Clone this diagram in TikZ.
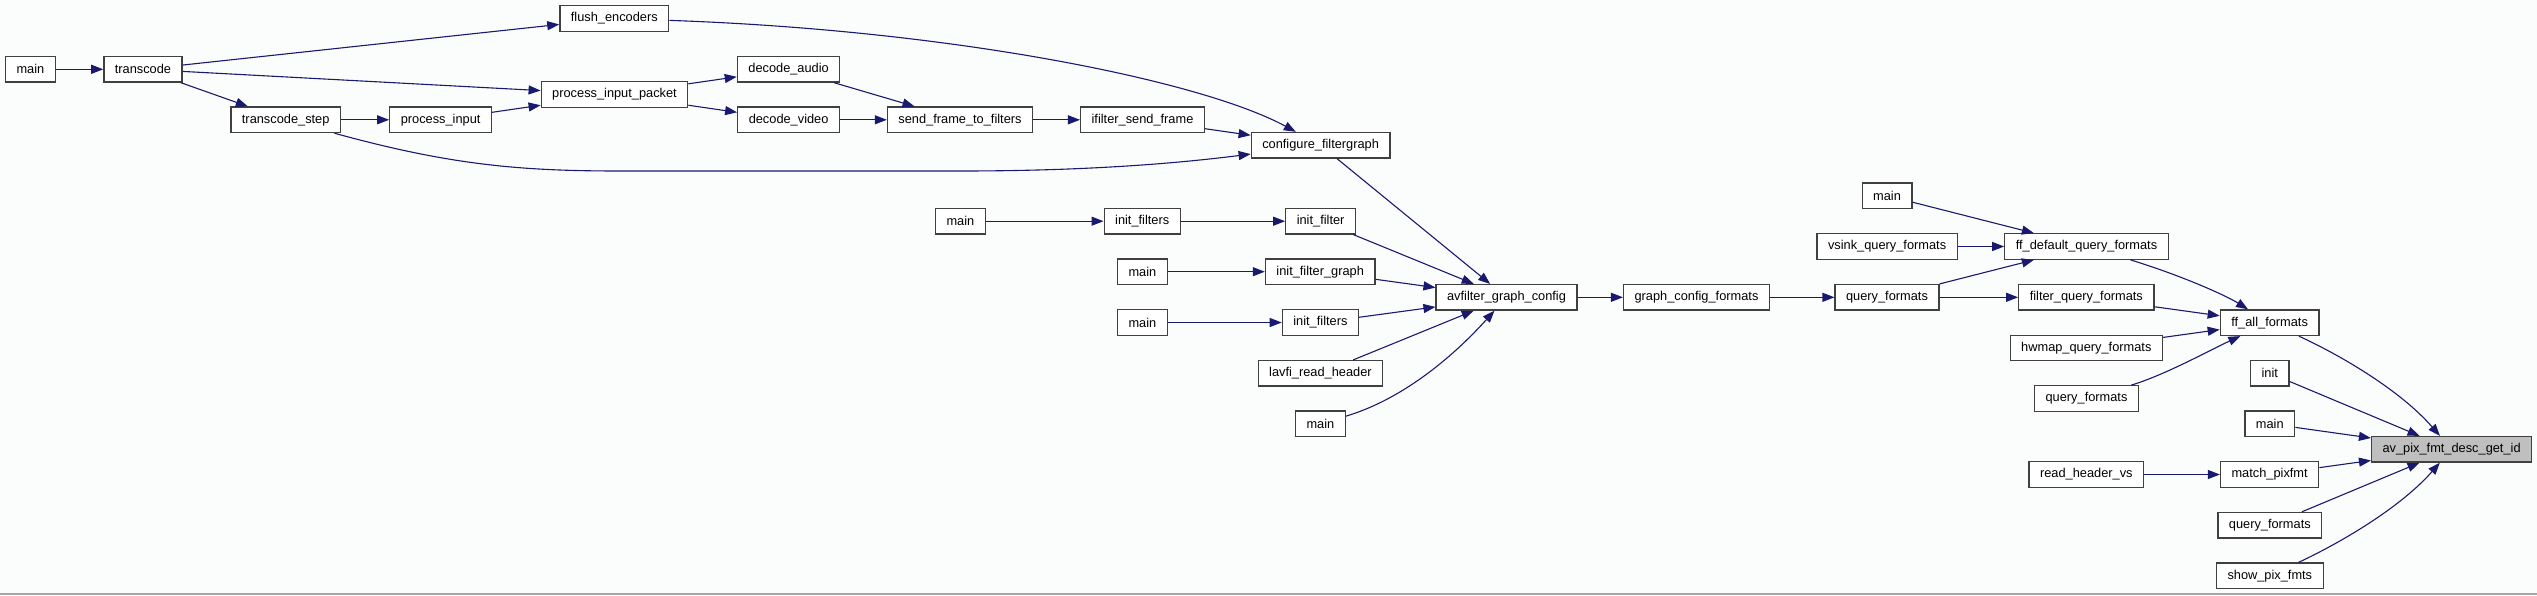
\documentclass[tikz,border=0pt]{standalone}
\usepackage{fontspec}
\setmainfont{Liberation Sans}
\usetikzlibrary{positioning, arrows.meta}
\definecolor{edgeblue}{HTML}{191970}
\definecolor{boxline}{HTML}{404040}
\definecolor{selgray}{HTML}{BFBFBF}
\definecolor{pagebg}{RGB}{251,253,252}

\begin{document}
\begin{tikzpicture}[
  x=1pt, y=-1pt,
  fn/.style={draw=boxline, line width=1.3pt, fill=white, minimum height=25.5pt, inner xsep=11pt, inner ysep=0pt, font=\fontsize{12.8}{15}\selectfont},
  sel/.style={fn, fill=selgray},
  call/.style={-{Triangle[length=12pt, width=9pt]}, draw=edgeblue, line width=1.1pt}
]
  \useasboundingbox[fill=pagebg] (0,0) rectangle (2537,595);
  \draw[gray!70, line width=1.5pt] (0,594) -- (2537,594);

  % ffmpeg side
  \node[fn] (mainA) at (30.4,69.3) {main};
  \node[fn] (transcode) at (143,69.3) {transcode};
  \node[fn] (tcstep) at (285.7,119.8) {transcode\_step};
  \node[fn] (procin) at (440.6,119.8) {process\_input};
  \node[fn] (procpkt) at (614.5,94.5) {process\_input\_packet};
  \node[fn] (flushenc) at (614.3,18.5) {flush\_encoders};
  \node[fn] (decaudio) at (788.6,69.3) {decode\_audio};
  \node[fn] (decvideo) at (788.6,119.8) {decode\_video};
  \node[fn] (sendframe) at (960,119.8) {send\_frame\_to\_filters};
  \node[fn] (ifsend) at (1142.5,119.8) {ifilter\_send\_frame};
  \node[fn] (cfgfg) at (1320.6,145.2) {configure\_filtergraph};

  % other callers of avfilter_graph_config
  \node[fn] (mainB) at (960.4,221.2) {main};
  \node[fn] (initfiltersA) at (1142.2,221.2) {init\_filters};
  \node[fn] (initfilter) at (1320.6,221.2) {init\_filter};
  \node[fn] (mainC) at (1142.4,271.7) {main};
  \node[fn] (initfg) at (1320.2,271.7) {init\_filter\_graph};
  \node[fn] (mainD) at (1142.4,322.5) {main};
  \node[fn] (initfiltersB) at (1320.4,322.5) {init\_filters};
  \node[fn] (lavfi) at (1320.4,373.3) {lavfi\_read\_header};
  \node[fn] (mainE) at (1320.4,423.8) {main};

  % formats chain
  \node[fn] (avfgc) at (1506.5,297.3) {avfilter\_graph\_config};
  \node[fn] (gcf) at (1696.5,297.3) {graph\_config\_formats};
  \node[fn] (qfA) at (1887,297.3) {query\_formats};
  \node[fn] (mainF) at (1887,195.7) {main};
  \node[fn] (vsink) at (1887.1,246.5) {vsink\_query\_formats};
  \node[fn] (ffdef) at (2086.5,246.5) {ff\_default\_query\_formats};
  \node[fn] (filterqf) at (2086.3,297.3) {filter\_query\_formats};
  \node[fn] (hwmap) at (2086.3,348) {hwmap\_query\_formats};
  \node[fn] (qfB) at (2086.5,398.5) {query\_formats};
  \node[fn] (readvs) at (2086.3,474.5) {read\_header\_vs};
  \node[fn] (ffall) at (2269.6,322.7) {ff\_all\_formats};
  \node[fn] (init) at (2269.8,373.2) {init};
  \node[fn] (mainG) at (2269.8,423.8) {main};
  \node[fn] (matchpf) at (2269.6,474.5) {match\_pixfmt};
  \node[fn] (qfC) at (2269.8,525.2) {query\_formats};
  \node[fn] (showpf) at (2269.8,575.8) {show\_pix\_fmts};
  \node[sel] (avpix) at (2451.6,449.3) {av\_pix\_fmt\_desc\_get\_id};

  \draw[call] (mainA) -- (transcode);
  \draw[call] (transcode) -- (flushenc);
  \draw[call] (transcode) -- (procpkt);
  \draw[call] (transcode) -- (tcstep);
  \draw[call] (tcstep) -- (procin);
  \draw[call] (procin) -- (procpkt);
  \draw[call] (procpkt) -- (decaudio);
  \draw[call] (procpkt) -- (decvideo);
  \draw[call] (decaudio) -- (sendframe);
  \draw[call] (decvideo) -- (sendframe);
  \draw[call] (sendframe) -- (ifsend);
  \draw[call] (ifsend) -- (cfgfg);
  \draw[call] (flushenc) .. controls (950,30) and (1200,80) .. (cfgfg);
  \draw[call] (tcstep) .. controls (450,165) and (520,171) .. (620,171) -- (960,171) .. controls (1090,171) and (1180,163) .. (cfgfg);
  \draw[call] (cfgfg) -- (avfgc);

  \draw[call] (mainB) -- (initfiltersA);
  \draw[call] (initfiltersA) -- (initfilter);
  \draw[call] (initfilter) -- (avfgc);
  \draw[call] (mainC) -- (initfg);
  \draw[call] (initfg) -- (avfgc);
  \draw[call] (mainD) -- (initfiltersB);
  \draw[call] (initfiltersB) -- (avfgc);
  \draw[call] (lavfi) -- (avfgc);
  \draw[call] (mainE) .. controls (1400,400) and (1450,360) .. (avfgc);

  \draw[call] (avfgc) -- (gcf);
  \draw[call] (gcf) -- (qfA);
  \draw[call] (mainF) -- (ffdef);
  \draw[call] (vsink) -- (ffdef);
  \draw[call] (qfA) -- (ffdef);
  \draw[call] (qfA) -- (filterqf);
  \draw[call] (ffdef) .. controls (2180,275) and (2225,295) .. (ffall);
  \draw[call] (filterqf) -- (ffall);
  \draw[call] (hwmap) -- (ffall);
  \draw[call] (qfB) .. controls (2165,375) and (2210,350) .. (ffall);

  \draw[call] (ffall) .. controls (2340,355) and (2400,390) .. (avpix);
  \draw[call] (init) -- (avpix);
  \draw[call] (mainG) -- (avpix);
  \draw[call] (readvs) -- (matchpf);
  \draw[call] (matchpf) -- (avpix);
  \draw[call] (qfC) -- (avpix);
  \draw[call] (showpf) .. controls (2340,543) and (2400,508) .. (avpix);
\end{tikzpicture}
\end{document}
